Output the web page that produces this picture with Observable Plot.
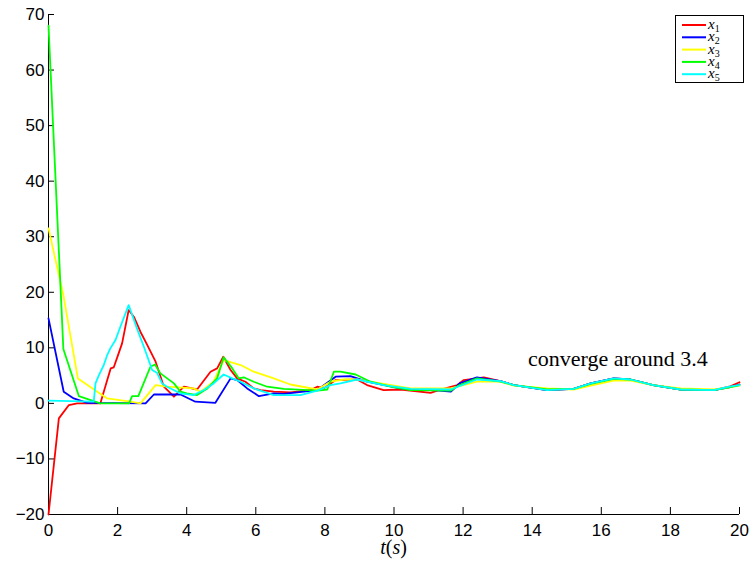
<!DOCTYPE html>
<html><head><meta charset="utf-8">
<script src="https://cdn.jsdelivr.net/npm/d3@7"></script>
<script src="https://cdn.jsdelivr.net/npm/@observablehq/plot@0.6"></script>
<style>body{margin:0;background:#fff}#chart{width:751px;height:565px}</style>
</head><body><div id="chart"></div>
<script>
// ---- data (t in seconds, value) ----
const x1 = [[0,-20],[0.3,-2.7],[0.59,-0.3],[0.83,0],[1.5,0],[1.7,4.2],[1.8,6.3],[1.89,6.5],[2.03,9.0],[2.13,10.8],[2.32,16.8],[2.47,15.6],[2.66,12.9],[2.86,10.5],[3.1,7.5],[3.34,3.0],[3.63,1.2],[3.92,3.0],[4.3,2.5],[4.69,5.7],[4.88,6.3],[5.06,8.4],[5.27,6.0],[5.46,4.5],[5.7,3.9],[5.94,2.7],[6.14,2.4],[6.52,2.1],[7.0,2.0],[7.58,2.4],[7.78,3.0],[7.97,2.7],[8.31,4.2],[8.93,4.3],[9.22,3.3],[9.7,2.4],[10.19,2.5],[11.06,1.9],[11.25,2.3],[11.83,3.3],[12.02,4.2],[12.6,4.7],[13.08,4.0],[13.47,3.3],[14.43,2.4],[15.2,2.6],[15.69,3.6],[16.36,4.5],[16.85,4.3],[17.5,3.3],[18.3,2.5],[19.26,2.4],[19.7,3.0],[20,3.8]];
const x2 = [[0,15.3],[0.44,2.1],[0.73,0.9],[1.12,0.1],[2.81,0],[3.05,1.6],[3.82,1.6],[4.25,0.3],[4.83,0.1],[5.27,4.5],[5.46,4.2],[5.75,2.7],[6.09,1.3],[6.52,1.8],[6.81,1.7],[7.78,2.4],[8.31,4.8],[8.74,4.9],[9.22,3.9],[10.19,2.7],[11.15,2.4],[11.64,2.1],[11.9,3.6],[12.4,4.7],[13.08,4.0],[13.47,3.3],[14.43,2.4],[15.2,2.6],[15.69,3.6],[16.36,4.5],[16.85,4.3],[17.5,3.3],[18.3,2.5],[19.26,2.4],[19.7,2.9],[20,3.4]];
const x3 = [[0,31.5],[0.43,19.5],[0.85,4.5],[1.7,0.9],[2.37,0.3],[2.66,0],[2.86,1.5],[3.1,3.3],[3.43,3.0],[4.2,2.7],[4.4,2.1],[4.78,3.9],[5.07,7.8],[5.56,6.9],[5.94,5.7],[6.52,4.5],[7.0,3.4],[7.78,2.5],[8.16,3.9],[8.55,4.3],[8.93,4.3],[9.7,3.5],[10.48,2.7],[11.64,2.7],[12.4,3.9],[13.08,3.9],[13.47,3.2],[14.43,2.7],[15.2,2.5],[15.69,3.2],[16.36,4.1],[16.85,4.1],[17.5,3.3],[18.3,2.7],[19.26,2.5],[19.7,2.9],[20,3.2]];
const x4 = [[0,68],[0.43,9.8],[0.88,1.3],[1.5,0],[2.33,0],[2.42,1.3],[2.6,1.3],[2.95,6.6],[3.08,7.0],[3.24,5.4],[3.63,3.6],[3.82,2.1],[4.0,1.8],[4.3,1.5],[4.6,2.7],[4.88,4.5],[5.07,8.3],[5.32,6.3],[5.51,4.5],[5.65,4.7],[5.94,3.9],[6.33,3.0],[6.81,2.6],[7.78,2.3],[8.07,2.5],[8.26,5.7],[8.45,5.7],[8.89,5.2],[9.32,3.9],[9.9,3.0],[10.48,2.4],[11.64,2.3],[11.9,3.3],[12.4,4.5],[13.08,3.9],[13.47,3.3],[14.43,2.5],[15.2,2.6],[15.69,3.5],[16.36,4.4],[16.85,4.3],[17.5,3.3],[18.3,2.5],[19.26,2.4],[19.7,2.9],[20,3.3]];
const x5 = [[0,0.5],[1.31,0.3],[1.36,3.6],[1.46,5.1],[1.6,6.9],[1.7,8.7],[1.79,9.9],[1.94,11.4],[2.08,13.8],[2.32,17.7],[2.56,13.5],[2.76,10.2],[3.0,6.0],[3.14,5.5],[3.29,3.6],[3.43,3.0],[3.82,1.8],[4.2,1.5],[4.5,2.4],[4.78,3.6],[5.07,5.2],[5.32,4.5],[5.56,3.9],[5.94,2.7],[6.52,1.5],[7.29,1.5],[7.78,2.3],[8.16,3.3],[8.45,3.6],[8.93,4.3],[9.7,3.3],[10.48,2.6],[11.64,2.5],[12.4,4.3],[13.08,4.0],[13.47,3.3],[14.43,2.4],[15.2,2.6],[15.69,3.6],[16.36,4.5],[16.85,4.3],[17.5,3.3],[18.3,2.5],[19.26,2.4],[19.7,3.0],[20,3.3]];

const seriesNames = ["x1","x2","x3","x4","x5"];
const seriesColors = ["#ff0000","#0000ff","#ffff00","#00ff00","#00ffff"];
const xTicks = [0,2,4,6,8,10,12,14,16,18,20];
const yTicks = [-20,-10,0,10,20,30,40,50,60,70];
const annotation = [{t:16.48, v:8.0, text:"converge around 3.4"}];

const rows = [];
[x1,x2,x3,x4,x5].forEach((s,i)=>s.forEach(([t,v])=>rows.push({t,v,series:seriesNames[i]})));

const plot = Plot.plot({
  width:751, height:565,
  marginLeft:48, marginRight:12, marginTop:14, marginBottom:51,
  style:{fontFamily:"'Liberation Sans', Arial, sans-serif", fontSize:"17px", background:"#fff", color:"#000", overflow:"visible"},
  x:{domain:[0,20], label:null},
  y:{domain:[-20,70], label:null},
  color:{domain:seriesNames, range:seriesColors},
  marks:[
    Plot.ruleX([0],{stroke:"#000", strokeWidth:1}),
    Plot.ruleY([-20],{stroke:"#000", strokeWidth:1}),
    Plot.axisX({ticks:xTicks, tickSize:-7, tickPadding:16, fontSize:17, stroke:"#000", fill:"#000"}),
    Plot.axisY({ticks:yTicks, tickSize:-6, tickPadding:10, fontSize:17, stroke:"#000", fill:"#000"}),
    Plot.lineY(rows,{x:"t", y:"v", z:"series", stroke:"series", strokeWidth:1.8}),
    Plot.text(annotation,{x:"t", y:"v", text:"text", fontFamily:"'Liberation Serif', 'Times New Roman', serif", fontSize:22, fill:"#000"})
  ]
});
document.getElementById("chart").appendChild(plot);

const svg = d3.select(plot);
const serif = "'Liberation Serif', 'Times New Roman', serif";

// x-axis label t(s)
const xl = svg.append("text")
  .attr("x", 393.5).attr("y", 554)
  .attr("text-anchor","middle")
  .attr("font-family", serif)
  .attr("font-size", 20).attr("fill","#000");
xl.append("tspan").attr("font-style","italic").text("t");
xl.append("tspan").text("(");
xl.append("tspan").attr("font-style","italic").text("s");
xl.append("tspan").text(")");

// legend
const lg = svg.append("g");
lg.append("rect").attr("x",675.5).attr("y",15.5).attr("width",68).attr("height",67)
  .attr("fill","#fff").attr("stroke","#000").attr("stroke-width",1);
seriesNames.forEach((name,i)=>{
  const yy = 25 + i*12.3;
  lg.append("line").attr("x1",682).attr("x2",706).attr("y1",yy).attr("y2",yy)
    .attr("stroke",seriesColors[i]).attr("stroke-width",2);
  const tx = lg.append("text").attr("x",708).attr("y",yy+4)
    .attr("text-anchor","start")
    .attr("font-family", serif).attr("fill","#000");
  tx.append("tspan").attr("font-style","italic").attr("font-size",15).text("x");
  tx.append("tspan").attr("font-size",10).attr("dy",3).text(String(i+1));
});
</script>
</body></html>
